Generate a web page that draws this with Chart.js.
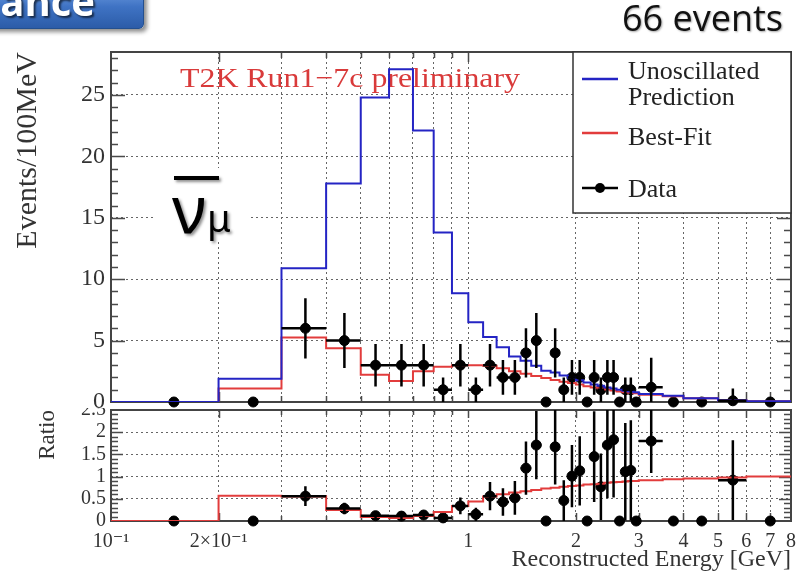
<!DOCTYPE html>
<html>
<head>
<meta charset="utf-8">
<script src="https://cdn.jsdelivr.net/npm/chart.js@4.4.1/dist/chart.umd.min.js"></script>
<style>
  html, body { margin: 0; padding: 0; background: #fff; }
  #wrap { position: relative; width: 809px; height: 573px; overflow: hidden; }
  #topChart { position: absolute; left: 0; top: 0; }
  #ratioChart { position: absolute; left: 0; top: 400px; }
  .badge {
    position: absolute; left: -12px; top: -12px; width: 154px; height: 39px;
    border: 1px solid #24508f; border-radius: 5px;
    background: linear-gradient(to bottom, #6d9be0 0%, #3f73c4 45%, #2c5ca8 100%);
    box-shadow: 3px 3px 4px rgba(0,0,0,0.45);
    overflow: hidden;
  }
  .badge span {
    position: absolute; right: 48px; top: -8px;
    font: bold 40px/40px "Open Sans", sans-serif; color: #fff;
    text-shadow: 2px 2px 2px rgba(0,0,0,0.6);
  }
  .events {
    position: absolute; right: 26px; top: 0;
    font: 36px/36px "Open Sans", sans-serif; color: #111;
    text-shadow: 1px 1px 2px rgba(0,0,0,0.35);
  }
</style>
</head>
<body>
<div id="wrap">
  <canvas id="ratioChart" width="809" height="173"></canvas>
  <canvas id="topChart" width="809" height="408"></canvas>
  <div class="badge"><span>ance</span></div>
  <div class="events">66 events</div>
</div>
<script>
// bin edges in GeV
const binEdges = [0.1, 0.2, 0.3, 0.4, 0.5, 0.6, 0.7, 0.8, 0.9, 1.0,
  1.1, 1.2, 1.3, 1.4, 1.5, 1.6, 1.7, 1.8, 1.9, 2.0,
  2.1, 2.2, 2.3, 2.4, 2.5, 2.6, 2.7, 2.8, 2.9, 3.0,
  3.5, 4.0, 5.0, 6.0, 8.0];

// events / 100 MeV
const unoscillated = [0, 1.9, 10.9, 17.8, 24.8, 27.1, 22.1, 13.8, 8.85, 6.5,
  5.3, 4.45, 3.7, 3.35, 2.95, 2.55, 2.4, 2.15, 1.98, 1.78,
  1.58, 1.42, 1.32, 1.18, 1.09, 0.99, 0.91, 0.86, 0.8, 0.66,
  0.5, 0.31, 0.15, 0.07];
const bestFit = [0, 1.1, 5.25, 4.37, 2.22, 1.72, 2.5, 2.88, 3.0, 3.0,
  2.95, 2.75, 2.5, 2.3, 2.12, 1.95, 1.8, 1.65, 1.55, 1.42,
  1.28, 1.18, 1.1, 1.02, 0.93, 0.86, 0.8, 0.76, 0.72, 0.6,
  0.47, 0.3, 0.15, 0.07];
const dataEvents = [0, 0, 6, 5, 3, 3, 3, 1, 3, 1,
  3, 2, 2, 4, 5, 0, 4, 1, 2, 2,
  0, 2, 1, 2, 2, 0, 1, 1, 0, 1.2,
  0, 0, 0.1, 0];
const dataErr = [0, 0, 2.45, 2.24, 1.73, 1.73, 1.73, 1, 1.73, 1,
  1.73, 1.41, 1.41, 2, 2.24, 0, 2, 1, 1.41, 1.41,
  0, 1.41, 1, 1.41, 1.41, 0, 1, 1, 0, 2.4,
  0, 0, 1, 0];

// ratio panel
const ratioData = [0, 0, 0.56, 0.28, 0.12, 0.11, 0.135, 0.07, 0.34, 0.15,
  0.56, 0.43, 0.52, 1.19, 1.71, 0, 1.67, 0.46, 1.01, 1.13,
  0, 1.45, 0.77, 1.71, 1.83, 0, 1.11, 1.14, 0, 1.8,
  0, 0, 0.92, 0];
const ratioErr = [0, 0, 0.22, 0.13, 0.07, 0.065, 0.08, 0.07, 0.19, 0.15,
  0.32, 0.31, 0.38, 0.6, 0.77, 0, 0.85, 0.46, 0.7, 0.78,
  0, 1.02, 0.75, 1.2, 1.3, 0, 1.1, 1.13, 0, 0.72,
  0, 0, 0.9, 0];
const ratioFit = [0, 0.57, 0.55, 0.25, 0.09, 0.065, 0.11, 0.2, 0.34, 0.44,
  0.55, 0.6, 0.64, 0.67, 0.7, 0.73, 0.75, 0.77, 0.79, 0.8,
  0.82, 0.83, 0.84, 0.86, 0.87, 0.88, 0.89, 0.9, 0.9, 0.92,
  0.94, 0.96, 0.98, 1.0];

// axes
const xTickValues = [0.1, 0.2, 0.3, 0.4, 0.5, 0.6, 0.7, 0.8, 0.9, 1, 2, 3, 4, 5, 6, 7, 8];
const xTickLabels = ['10\u207B\u00B9', '2\u00D710\u207B\u00B9', '', '', '', '', '', '', '', '1', '2', '3', '4', '5', '6', '7', '8'];
const yTopTicks = [0, 5, 10, 15, 20, 25];
const yRatioTicks = [0, 0.5, 1, 1.5, 2, 2.5];

const SERIF = "'Liberation Serif', 'DejaVu Serif', serif";
const BLUE = '#2424c4';
const RED = '#e23c3c';
const GRID = '#666';

function histPoints(vals) {
  const pts = vals.map((v, i) => ({x: binEdges[i], y: v}));
  pts.push({x: binEdges[vals.length], y: vals[vals.length - 1]});
  return pts;
}
function centerPoints(vals) {
  return vals.map((v, i) => ({x: (binEdges[i] + binEdges[i + 1]) / 2, y: v}));
}
function labelFor(v) {
  const i = xTickValues.findIndex(t => Math.abs(t - v) < 1e-9);
  return i < 0 ? '' : xTickLabels[i];
}
function xGridColor(c) {
  if (!c.tick) return 'rgba(0,0,0,0)';
  const v = c.tick.value;
  return (v > 0.1 + 1e-9 && v < 8 - 1e-9) ? GRID : 'rgba(0,0,0,0)';
}

const whiteBg = {
  id: 'whiteBg',
  beforeDraw(chart) {
    const ctx = chart.ctx;
    ctx.save();
    ctx.fillStyle = '#fff';
    ctx.fillRect(0, 0, chart.width, chart.height);
    ctx.restore();
  }
};

const errorBars = {
  id: 'errorBars',
  afterDatasetsDraw(chart) {
    const {ctx, chartArea: a} = chart;
    const xs = chart.scales.x, ys = chart.scales.y;
    ctx.save();
    ctx.beginPath();
    ctx.rect(a.left, a.top, a.right - a.left, a.bottom - a.top);
    ctx.clip();
    ctx.strokeStyle = '#000';
    ctx.lineWidth = 2.5;
    chart.data.datasets.forEach(ds => {
      if (!ds.errors) return;
      ds.data.forEach((p, i) => {
        if (p.y <= 0) return;
        const px = xs.getPixelForValue(p.x);
        const py = ys.getPixelForValue(p.y);
        const e = ds.errors[i];
        ctx.beginPath();
        ctx.moveTo(px, ys.getPixelForValue(Math.max(p.y - e, 0)));
        ctx.lineTo(px, ys.getPixelForValue(p.y + e));
        ctx.moveTo(xs.getPixelForValue(binEdges[i]), py);
        ctx.lineTo(xs.getPixelForValue(binEdges[i + 1]), py);
        ctx.stroke();
      });
    });
    ctx.restore();
  }
};

// ROOT-like frame with inward ticks, drawn under the histograms
function frameTicks(o) {
  return {
    id: 'frameTicks',
    beforeDatasetsDraw(chart) {
      const {ctx, chartArea: a} = chart;
      const xs = chart.scales.x, ys = chart.scales.y;
      ctx.save();
      ctx.strokeStyle = '#4a4a4a';
      ctx.lineWidth = 1.5;
      ctx.beginPath();
      xTickValues.forEach(v => {
        if (v <= 0.1 || v >= 8) return;
        const px = Math.round(xs.getPixelForValue(v)) + 0.5;
        const len = labelFor(v) ? o.xMajor : o.xMinor;
        ctx.moveTo(px, a.top); ctx.lineTo(px, a.top + len);
        ctx.moveTo(px, a.bottom); ctx.lineTo(px, a.bottom - len);
      });
      for (let k = 1; k * o.yStep < ys.max - 1e-9; k++) {
        const v = k * o.yStep;
        const py = Math.round(ys.getPixelForValue(v)) + 0.5;
        const len = (k % o.yMajorEvery === 0) ? o.yMajor : o.yMinor;
        ctx.moveTo(a.left, py); ctx.lineTo(a.left + len, py);
        ctx.moveTo(a.right, py); ctx.lineTo(a.right - len, py);
      }
      ctx.stroke();
      ctx.lineWidth = 2;
      ctx.strokeStyle = '#444';
      ctx.strokeRect(a.left, a.top, a.right - a.left, a.bottom - a.top);
      ctx.restore();
    }
  };
}

const topDecor = {
  id: 'topDecor',
  beforeDatasetsDraw(chart) {
    const ctx = chart.ctx;
    const txt = 'T2K Run1\u22127c preliminary';
    ctx.save();
    ctx.fillStyle = '#d93a3a';
    ctx.font = '28px ' + SERIF;
    ctx.textBaseline = 'alphabetic';
    const w = ctx.measureText(txt).width;
    ctx.translate(180, 87);
    ctx.scale(340 / w, 1);
    ctx.fillText(txt, 0, 0);
    ctx.restore();
  },
  afterDraw(chart) {
    const ctx = chart.ctx;
    ctx.save();
    // legend
    ctx.fillStyle = '#fff';
    ctx.fillRect(573, 52, 218, 161);
    ctx.strokeStyle = '#333';
    ctx.lineWidth = 1.5;
    ctx.strokeRect(573, 52, 218, 161);
    ctx.lineWidth = 2.5;
    ctx.strokeStyle = BLUE;
    ctx.beginPath(); ctx.moveTo(582, 79); ctx.lineTo(618, 79); ctx.stroke();
    ctx.strokeStyle = RED;
    ctx.beginPath(); ctx.moveTo(582, 133); ctx.lineTo(618, 133); ctx.stroke();
    ctx.strokeStyle = '#000';
    ctx.beginPath(); ctx.moveTo(582, 188); ctx.lineTo(618, 188); ctx.stroke();
    ctx.fillStyle = '#000';
    ctx.beginPath(); ctx.arc(600, 188, 5, 0, Math.PI * 2); ctx.fill();
    ctx.fillStyle = '#222';
    ctx.font = '26px ' + SERIF;
    ctx.fillText('Unoscillated', 628, 79);
    ctx.fillText('Prediction', 628, 105);
    ctx.fillText('Best-Fit', 628, 145);
    ctx.fillText('Data', 628, 197);
    // anti-neutrino label
    ctx.fillStyle = '#fff';
    ctx.fillRect(153, 168, 97, 74);
    ctx.shadowColor = 'rgba(0,0,0,0.45)';
    ctx.shadowOffsetX = 2; ctx.shadowOffsetY = 2; ctx.shadowBlur = 3;
    ctx.fillStyle = '#000';
    ctx.fillRect(174, 176, 45, 4);
    ctx.font = '66px "Noto Sans", sans-serif';
    ctx.fillText('\u03BD', 172, 233);
    ctx.font = '38px "Noto Sans", sans-serif';
    ctx.fillText('\u03BC', 207, 232);
    ctx.restore();
  }
};

function xScale(showLabels) {
  const s = {
    type: 'logarithmic', min: 0.1, max: 8,
    afterBuildTicks: sc => { sc.ticks = xTickValues.map(v => ({value: v})); },
    afterFit: sc => { sc.height = showLabels ? 52 : 6; sc.paddingLeft = 0; sc.paddingRight = 0; },
    grid: {drawTicks: false, color: xGridColor, lineWidth: 1},
    border: {display: false, dash: [2, 3]},
    ticks: {display: false}
  };
  if (showLabels) {
    s.ticks = {
      display: true, autoSkip: false, maxRotation: 0, minRotation: 0, padding: 9,
      font: {family: SERIF, size: 20}, color: '#333',
      callback: v => labelFor(v)
    };
    s.title = {
      display: true, text: 'Reconstructed Energy [GeV]', align: 'end', color: '#333',
      font: {family: SERIF, size: 24, lineHeight: 1}, padding: {top: 0, bottom: 1}
    };
  }
  return s;
}

function loadCharts() {
  const topCfg = {
    type: 'line',
    data: {
      datasets: [
        {label: 'Unoscillated Prediction', data: histPoints(unoscillated), stepped: 'before',
         borderColor: BLUE, borderWidth: 2, pointRadius: 0, fill: false},
        {label: 'Best-Fit', data: histPoints(bestFit), stepped: 'before',
         borderColor: RED, borderWidth: 2, pointRadius: 0, fill: false},
        {label: 'Data', data: centerPoints(dataEvents), errors: dataErr, showLine: false,
         pointRadius: 5, pointBackgroundColor: '#000', pointBorderColor: '#000', clip: false}
      ]
    },
    options: {
      responsive: false, animation: false,
      layout: {padding: {left: 0, top: 52, right: 18, bottom: 0}},
      plugins: {legend: {display: false}, tooltip: {enabled: false}},
      scales: {
        x: xScale(false),
        y: {
          min: 0, max: 28.5,
          afterBuildTicks: sc => { sc.ticks = yTopTicks.map(v => ({value: v})); },
          afterFit: sc => { sc.width = 111; sc.paddingTop = 0; sc.paddingBottom = 0; },
          ticks: {font: {family: SERIF, size: 24}, color: '#333', padding: 6, autoSkip: false,
                  callback: v => String(v)},
          grid: {drawTicks: false, lineWidth: 1,
                 color: c => (c.tick && c.tick.value > 0) ? GRID : 'rgba(0,0,0,0)'},
          border: {display: false, dash: [2, 3]},
          title: {display: true, text: 'Events/100MeV', align: 'end', color: '#333',
                  font: {family: SERIF, size: 30, lineHeight: 1}, padding: {top: 13, bottom: 0}}
        }
      }
    },
    plugins: [whiteBg, frameTicks({xMajor: 10, xMinor: 6, yStep: 1, yMajorEvery: 5, yMajor: 14, yMinor: 7}), topDecor, errorBars]
  };
  new Chart(document.getElementById('topChart').getContext('2d'), topCfg);

  const ratioCfg = {
    type: 'line',
    data: {
      datasets: [
        {label: 'Best-Fit ratio', data: histPoints(ratioFit), stepped: 'before',
         borderColor: RED, borderWidth: 2, pointRadius: 0, fill: false},
        {label: 'Data ratio', data: centerPoints(ratioData), errors: ratioErr, showLine: false,
         pointRadius: 5, pointBackgroundColor: '#000', pointBorderColor: '#000', clip: false}
      ]
    },
    options: {
      responsive: false, animation: false,
      layout: {padding: {left: 0, top: 10, right: 18, bottom: 0}},
      plugins: {legend: {display: false}, tooltip: {enabled: false}},
      scales: {
        x: xScale(true),
        y: {
          min: 0, max: 2.5,
          afterBuildTicks: sc => { sc.ticks = yRatioTicks.map(v => ({value: v})); },
          afterFit: sc => { sc.width = 111; sc.paddingTop = 0; sc.paddingBottom = 0; },
          ticks: {font: {family: SERIF, size: 20}, color: '#333', padding: 5, autoSkip: false,
                  callback: v => String(v)},
          grid: {drawTicks: false, lineWidth: 1,
                 color: c => (c.tick && c.tick.value > 0 && c.tick.value < 2.5) ? GRID : 'rgba(0,0,0,0)'},
          border: {display: false, dash: [2, 3]},
          title: {display: true, text: 'Ratio', align: 'end', color: '#333',
                  font: {family: SERIF, size: 23, lineHeight: 1}, padding: {top: 36, bottom: 0}}
        }
      }
    },
    plugins: [whiteBg, frameTicks({xMajor: 8, xMinor: 5, yStep: 0.1, yMajorEvery: 5, yMajor: 12, yMinor: 7}), errorBars]
  };
  new Chart(document.getElementById('ratioChart').getContext('2d'), ratioCfg);
}

document.addEventListener('DOMContentLoaded', loadCharts);
</script>
</body>
</html>
